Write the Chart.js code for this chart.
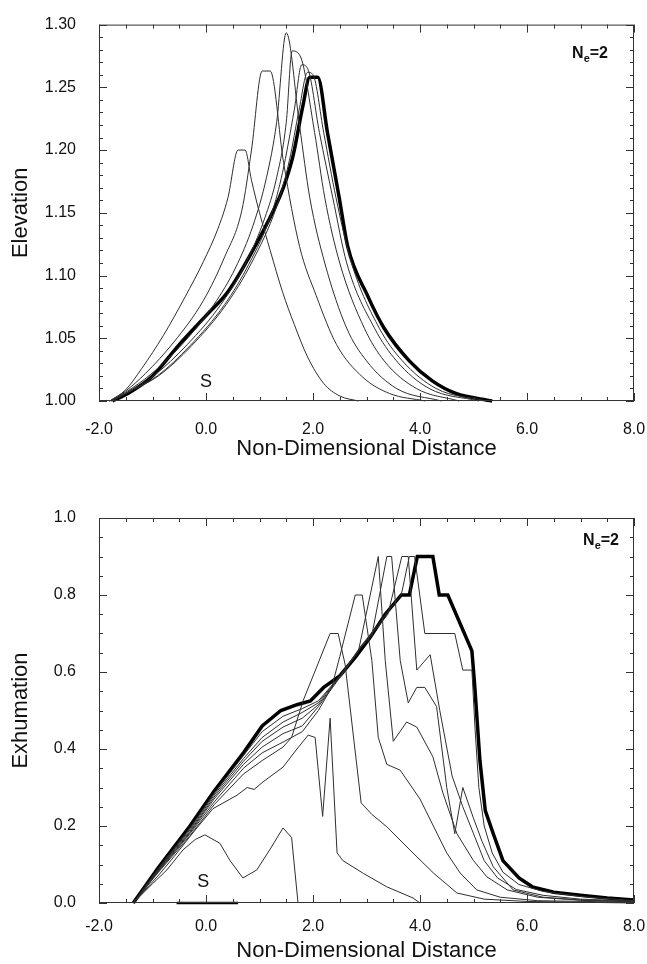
<!DOCTYPE html>
<html>
<head>
<meta charset="utf-8">
<title>Elevation and Exhumation</title>
<script src="https://cdn.jsdelivr.net/npm/chart.js@4.4.1/dist/chart.umd.min.js"></script>
<style>
  html, body { margin: 0; padding: 0; background: #fff; }
  #wrap { position: relative; width: 647px; height: 964px; }
  .box { position: absolute; left: 0; width: 647px; }
  #topBox { top: 0; height: 480px; }
  #botBox { top: 480px; height: 484px; }
</style>
</head>
<body>
<div id="wrap">
  <div class="box" id="topBox"><canvas id="elevChart"></canvas></div>
  <div class="box" id="botBox"><canvas id="exhumChart"></canvas></div>
</div>
<script>
// x ticks shared by both panels
const xTickValues = [-2, 0, 2, 4, 6, 8];

// --- Elevation profiles, [distance, elevation] ---
const elevA = [[-1.8,1.0],[-1.5,1.009],[-1.2,1.026],[-0.8,1.052],[-0.39,1.083],[-0.05,1.111],[0.22,1.137],[0.41,1.162],[0.6,1.2],[0.73,1.2],[0.85,1.176],[1.0,1.15],[1.2,1.12],[1.43,1.087],[1.65,1.061],[1.9,1.035],[2.2,1.014],[2.5,1.004],[2.85,1.0]];
const elevB = [[-1.8,1.0],[-1.5,1.008],[-1.13,1.022],[-0.6,1.047],[-0.05,1.08],[0.35,1.115],[0.67,1.152],[0.85,1.2],[1.05,1.263],[1.2,1.263],[1.45,1.19],[1.75,1.123],[2.06,1.084],[2.44,1.045],[2.93,1.019],[3.43,1.006],[4.1,1.0]];
const elevC = [[-1.8,1.0],[-1.5,1.007],[-1.04,1.021],[-0.45,1.045],[0.15,1.077],[0.55,1.106],[0.88,1.14],[1.13,1.178],[1.32,1.222],[1.5,1.2935],[1.75,1.219],[1.94,1.162],[2.22,1.11],[2.63,1.058],[3.0,1.032],[3.56,1.01],[4.4,1.0]];
const elevD = [[-1.78,1.0],[-1.5,1.006],[-0.98,1.02],[-0.35,1.045],[0.28,1.077],[0.72,1.108],[1.1,1.146],[1.32,1.178],[1.5,1.222],[1.61,1.279],[1.76,1.275],[2.03,1.214],[2.22,1.162],[2.5,1.11],[2.96,1.058],[3.33,1.032],[3.93,1.01],[4.73,1.0]];
const elevE = [[-1.77,1.0],[-1.5,1.006],[-0.91,1.02],[-0.3,1.044],[0.35,1.077],[0.8,1.109],[1.23,1.15],[1.43,1.182],[1.65,1.232],[1.79,1.268],[1.9,1.265],[2.12,1.214],[2.37,1.162],[2.63,1.11],[3.15,1.058],[3.56,1.032],[4.17,1.01],[5.1,1.0]];
const elevF = [[-1.76,1.0],[-1.5,1.006],[-0.89,1.02],[-0.27,1.044],[0.38,1.077],[0.85,1.11],[1.32,1.155],[1.56,1.192],[1.74,1.232],[1.9,1.262],[2.0,1.26],[2.2,1.214],[2.43,1.162],[2.72,1.11],[3.24,1.058],[3.67,1.032],[4.3,1.01],[5.25,1.0]];
const elevFinal = [[-1.75,1.0],[-1.46,1.006],[-1.0,1.02],[-0.5,1.045],[0.0,1.068],[0.41,1.087],[0.9,1.122],[1.38,1.163],[1.51,1.178],[1.63,1.196],[1.81,1.235],[1.94,1.258],[2.09,1.258],[2.27,1.214],[2.49,1.162],[2.65,1.123],[3.02,1.084],[3.33,1.058],[3.8,1.032],[4.23,1.016],[4.67,1.006],[5.35,1.0]];

// --- Exhumation profiles, [distance, exhumation] ---
const exhA = [[-1.36,0],[-1.0,0.05],[-0.73,0.086],[-0.43,0.138],[-0.2,0.165],[-0.02,0.177],[0.26,0.155],[0.45,0.11],[0.69,0.065],[0.95,0.086],[1.2,0.14],[1.44,0.195],[1.6,0.17],[1.72,0.0]];
const exhB = [[-1.36,0],[-0.9,0.07],[-0.6,0.12],[-0.2,0.19],[0.13,0.245],[0.58,0.28],[0.77,0.30],[0.9,0.295],[1.07,0.315],[1.44,0.353],[1.7,0.4],[1.91,0.436],[2.04,0.43],[2.18,0.225],[2.32,0.48],[2.45,0.13],[2.56,0.11],[2.94,0.077],[3.38,0.042],[3.87,0.013],[4.0,0.0]];
const exhC = [[-1.36,0],[-0.9,0.078],[-0.3,0.175],[0.15,0.255],[0.7,0.335],[1.05,0.37],[1.44,0.405],[1.6,0.43],[1.82,0.527],[2.32,0.70],[2.47,0.70],[2.6,0.62],[2.9,0.26],[3.1,0.23],[3.38,0.198],[3.81,0.138],[4.25,0.078],[4.69,0.026],[5.2,0.01],[6.0,0.004],[8.0,0.0]];
const exhD = [[-1.36,0],[-0.9,0.08],[-0.3,0.18],[0.15,0.262],[0.7,0.35],[1.05,0.39],[1.44,0.418],[1.8,0.445],[2.1,0.5],[2.35,0.56],[2.5,0.64],[2.79,0.8],[2.92,0.8],[3.1,0.63],[3.22,0.43],[3.38,0.36],[3.63,0.345],[4.0,0.27],[4.25,0.2],[4.5,0.13],[4.75,0.078],[5.06,0.034],[5.5,0.015],[6.2,0.006],[8.0,0.002]];
const exhE = [[-1.36,0],[-0.9,0.082],[-0.3,0.183],[0.15,0.27],[0.7,0.36],[1.05,0.405],[1.44,0.44],[1.8,0.46],[2.1,0.51],[2.5,0.585],[2.85,0.655],[3.22,0.9],[3.35,0.63],[3.5,0.42],[3.75,0.47],[3.94,0.457],[4.24,0.38],[4.43,0.285],[4.69,0.18],[5.0,0.11],[5.25,0.068],[5.63,0.034],[6.2,0.015],[7.0,0.007],[8.0,0.003]];
const exhF = [[-1.36,0],[-0.9,0.084],[-0.3,0.186],[0.15,0.275],[0.7,0.368],[1.05,0.42],[1.44,0.457],[1.8,0.48],[2.1,0.515],[2.5,0.587],[2.9,0.665],[3.1,0.695],[3.38,0.9],[3.47,0.9],[3.63,0.63],[3.78,0.52],[3.94,0.56],[4.09,0.56],[4.31,0.51],[4.5,0.30],[4.65,0.18],[4.8,0.30],[5.0,0.22],[5.16,0.16],[5.37,0.094],[5.74,0.034],[6.3,0.015],[7.0,0.008],[8.0,0.004]];
const exhG = [[-1.36,0],[-0.9,0.086],[-0.3,0.19],[0.15,0.28],[0.7,0.375],[1.05,0.43],[1.44,0.47],[1.8,0.495],[2.1,0.52],[2.5,0.588],[2.9,0.667],[3.2,0.715],[3.4,0.75],[3.66,0.9],[3.78,0.9],[3.94,0.605],[4.19,0.645],[4.37,0.5],[4.6,0.33],[4.8,0.25],[5.0,0.18],[5.2,0.11],[5.45,0.065],[5.8,0.035],[6.3,0.02],[7.0,0.01],[8.0,0.005]];
const exhH = [[-1.36,0],[-0.9,0.088],[-0.3,0.195],[0.15,0.285],[0.7,0.383],[1.05,0.445],[1.44,0.485],[1.8,0.505],[2.1,0.525],[2.5,0.589],[2.9,0.668],[3.2,0.72],[3.5,0.775],[3.65,0.8],[3.8,0.9],[3.9,0.9],[4.09,0.70],[4.65,0.70],[4.8,0.605],[4.97,0.605],[5.03,0.45],[5.1,0.3],[5.2,0.2],[5.35,0.13],[5.55,0.08],[5.85,0.048],[6.3,0.03],[7.0,0.017],[8.0,0.006]];
const exhFinal = [[-1.36,0],[-0.9,0.09],[-0.3,0.2],[0.15,0.29],[0.7,0.39],[1.05,0.46],[1.4,0.5],[1.7,0.515],[1.95,0.525],[2.2,0.56],[2.5,0.59],[2.8,0.64],[3.07,0.69],[3.35,0.75],[3.65,0.80],[3.8,0.80],[3.95,0.9],[4.24,0.9],[4.36,0.80],[4.52,0.80],[4.97,0.655],[5.02,0.57],[5.12,0.37],[5.22,0.24],[5.37,0.18],[5.55,0.11],[5.85,0.065],[6.1,0.042],[6.5,0.028],[7.0,0.02],[7.5,0.013],[8.0,0.008]];
const exhSource = [[-0.55,0],[0.6,0]];

Chart.defaults.font.family = "'Liberation Sans', Arial, sans-serif";
Chart.defaults.color = '#111';

function pts(arr) {
  return arr.map(p => ({ x: p[0], y: p[1] }));
}

function thin(arr) {
  return { data: pts(arr), borderColor: '#2e2e2e', borderWidth: 1, pointRadius: 0, clip: 4 };
}

function thick(arr, w) {
  return { data: pts(arr), borderColor: '#000', borderWidth: w, pointRadius: 0, clip: 4 };
}

// frame with inward ticks on all four sides, plus the S and Ne=2 marks
const frameTicks = {
  id: 'frameTicks',
  afterDraw(chart, args, o) {
    const { ctx, chartArea: a, scales: { x, y } } = chart;
    ctx.save();
    ctx.strokeStyle = '#333';
    ctx.lineWidth = 1;
    ctx.strokeRect(a.left + 0.5, a.top + 0.5, a.right - a.left - 1, a.bottom - a.top - 1);
    ctx.beginPath();
    const nx = Math.round((x.max - x.min) / o.xMinor);
    for (let i = 0; i <= nx; i++) {
      const v = x.min + i * o.xMinor;
      const px = Math.round(x.getPixelForValue(v)) + 0.5;
      const r = v / o.xMajor;
      const len = Math.abs(r - Math.round(r)) < 1e-6 ? 8 : 4;
      ctx.moveTo(px, a.bottom); ctx.lineTo(px, a.bottom - len);
      ctx.moveTo(px, a.top); ctx.lineTo(px, a.top + len);
    }
    const ny = Math.round((y.max - y.min) / o.yMinor);
    for (let i = 0; i <= ny; i++) {
      const v = y.min + i * o.yMinor;
      const py = Math.round(y.getPixelForValue(v)) + 0.5;
      const r = (v - y.min) / o.yMajor;
      const len = Math.abs(r - Math.round(r)) < 1e-6 ? 8 : 4;
      ctx.moveTo(a.left, py); ctx.lineTo(a.left + len, py);
      ctx.moveTo(a.right, py); ctx.lineTo(a.right - len, py);
    }
    ctx.stroke();

    // "S" marker
    ctx.fillStyle = '#111';
    ctx.font = "18px 'Liberation Sans', Arial, sans-serif";
    ctx.textAlign = 'center';
    ctx.textBaseline = 'alphabetic';
    ctx.fillText('S', x.getPixelForValue(o.sX), y.getPixelForValue(o.sY));

    // N_e=2 label
    const big = "bold 16px 'Liberation Sans', Arial, sans-serif";
    const small = "bold 11px 'Liberation Sans', Arial, sans-serif";
    ctx.textAlign = 'left';
    ctx.font = big;
    const wN = ctx.measureText('N').width;
    const w2 = ctx.measureText('=2').width;
    ctx.font = small;
    const we = ctx.measureText('e').width;
    const base = a.top + o.neDrop;
    let px = a.right - o.neInset - (wN + we + w2);
    ctx.font = big;
    ctx.fillText('N', px, base);
    px += wN;
    ctx.font = small;
    ctx.fillText('e', px, base + 4);
    px += we;
    ctx.font = big;
    ctx.fillText('=2', px, base);
    ctx.restore();
  }
};

function xScale(labelPad) {
  return {
    type: 'linear',
    min: -2,
    max: 8,
    afterBuildTicks: s => { s.ticks = xTickValues.map(v => ({ value: v })); },
    afterFit: s => { s.height = labelPad.h; s.paddingRight = 13; },
    grid: { display: false },
    border: { display: false },
    ticks: {
      padding: labelPad.p,
      font: { size: 16 },
      color: '#111',
      maxRotation: 0,
      callback: v => v.toFixed(1)
    },
    title: {
      display: true,
      text: 'Non-Dimensional Distance',
      font: { size: 22 },
      color: '#111',
      padding: 0
    }
  };
}

// Top panel: elevation
new Chart(document.getElementById('elevChart'), {
  type: 'line',
  data: {
    datasets: [
      thin(elevA), thin(elevB), thin(elevC), thin(elevD), thin(elevE), thin(elevF),
      thick(elevFinal, 3.5)
    ]
  },
  options: {
    responsive: true,
    maintainAspectRatio: false,
    animation: false,
    events: [],
    layout: { padding: { top: 17, right: 0, bottom: 18, left: 8 } },
    elements: { line: { cubicInterpolationMode: 'monotone' } },
    scales: {
      x: xScale({ h: 61, p: 11 }),
      y: {
        min: 1.0,
        max: 1.3,
        afterFit: s => { s.width = 91; },
        grid: { display: false },
        border: { display: false },
        ticks: { stepSize: 0.05, padding: 15, font: { size: 16 }, color: '#111', callback: v => v.toFixed(2) },
        title: { display: true, text: 'Elevation', font: { size: 22 }, color: '#111', padding: 0 }
      }
    },
    plugins: {
      legend: { display: false },
      tooltip: { enabled: false },
      frameTicks: { xMinor: 0.5, xMajor: 2, yMinor: 0.01, yMajor: 0.05, sX: 0.0, sY: 1.011, neDrop: 33, neInset: 26 }
    }
  },
  plugins: [frameTicks]
});

// Bottom panel: exhumation
new Chart(document.getElementById('exhumChart'), {
  type: 'line',
  data: {
    datasets: [
      thick(exhSource, 2.5),
      thin(exhA), thin(exhB), thin(exhC), thin(exhD), thin(exhE), thin(exhF), thin(exhG), thin(exhH),
      thick(exhFinal, 3.5)
    ]
  },
  options: {
    responsive: true,
    maintainAspectRatio: false,
    animation: false,
    events: [],
    layout: { padding: { top: 38, right: 0, bottom: 0, left: 8 } },
    scales: {
      x: xScale({ h: 61, p: 6 }),
      y: {
        min: 0,
        max: 1.0,
        afterFit: s => { s.width = 91; },
        grid: { display: false },
        border: { display: false },
        ticks: { stepSize: 0.2, padding: 15, font: { size: 16 }, color: '#111', callback: v => v.toFixed(1) },
        title: { display: true, text: 'Exhumation', font: { size: 22 }, color: '#111', padding: 0 }
      }
    },
    plugins: {
      legend: { display: false },
      tooltip: { enabled: false },
      frameTicks: { xMinor: 0.5, xMajor: 2, yMinor: 0.05, yMajor: 0.2, sX: -0.05, sY: 0.042, neDrop: 27, neInset: 15 }
    }
  },
  plugins: [frameTicks]
});
</script>
</body>
</html>
